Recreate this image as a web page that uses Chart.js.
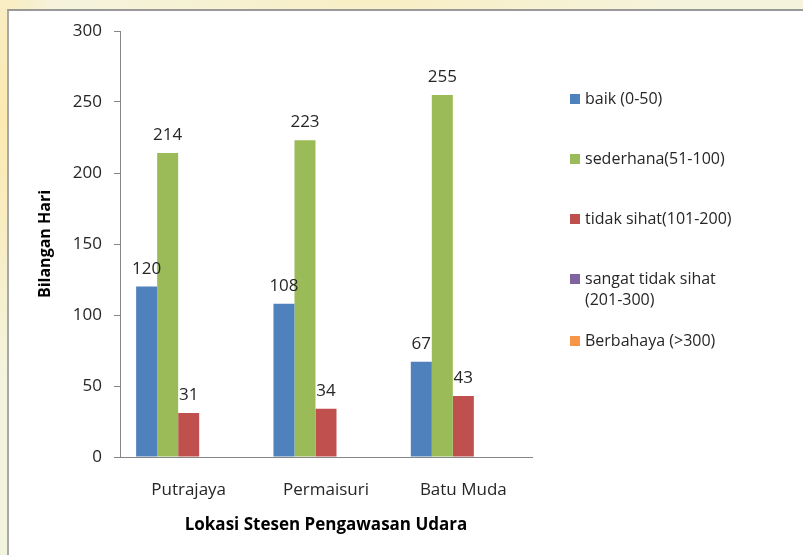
<!DOCTYPE html>
<html lang="ms">
<head>
    <meta charset="UTF-8">
    <title>Bilangan Hari mengikut Lokasi Stesen</title>
    <script src="https://cdn.jsdelivr.net/npm/chart.js"></script>
    <style>
        html, body {
            margin: 0;
            padding: 0;
            width: 803px;
            height: 555px;
            overflow: hidden;
        }

        body {
            font-family: "Open Sans", Arial, sans-serif;
            background:
                radial-gradient(ellipse 60px 260px at 0px 120px, rgba(252, 232, 170, 0.9), rgba(252, 232, 170, 0) 100%),
                radial-gradient(ellipse 300px 40px at 380px 0px, rgba(250, 238, 190, 0.8), rgba(250, 238, 190, 0) 100%),
                linear-gradient(180deg, #f5f3dc, #f3f4e0);
            position: relative;
        }

        .frame {
            position: absolute;
            left: 7px;
            top: 9px;
            right: -4px;
            bottom: -4px;
            background: #ffffff;
            border: 2px solid #999999;
            border-left-color: #a8a8a8;
        }

        .chart-box {
            position: absolute;
            left: 0;
            top: 0;
            width: 803px;
            height: 555px;
        }

        .legend {
            position: absolute;
            left: 0;
            top: 0;
        }

        .legend-item {
            position: absolute;
            left: 570px;
            font-size: 16px;
            line-height: 21px;
            color: #262626;
            white-space: nowrap;
        }

        .legend-item .swatch {
            position: absolute;
            left: 0;
            top: 6px;
            width: 10px;
            height: 10px;
        }

        .legend-item .label {
            position: absolute;
            left: 15px;
            top: 0;
        }
    </style>
</head>
<body>
    <div class="frame"></div>
    <div class="chart-box">
        <canvas id="barChart" width="803" height="555"></canvas>
    </div>
    <div class="legend" id="legend"></div>

    <script>
        // Data
        const categories = ["Putrajaya", "Permaisuri", "Batu Muda"];
        const baik = [120, 108, 67];
        const sederhana = [214, 223, 255];
        const tidakSihat = [31, 34, 43];
        const sangatTidakSihat = [null, null, null];
        const berbahaya = [null, null, null];

        const seriesNames = [
            "baik (0-50)",
            "sederhana(51-100)",
            "tidak sihat(101-200)",
            ["sangat tidak sihat", "(201-300)"],
            "Berbahaya (>300)"
        ];
        const seriesColors = ["#4F81BD", "#9BBB59", "#C0504D", "#8064A2", "#F79646"];
        const yTicks = [0, 50, 100, 150, 200, 250, 300];

        const yTitle = "Bilangan Hari";
        const xTitle = "Lokasi Stesen Pengawasan Udara";

        const fontFamily = "'Open Sans', Arial, sans-serif";
        const textColor = "#262626";
        const axisColor = "#868686";

        // Value labels drawn above each bar
        const valueLabels = {
            id: "valueLabels",
            afterDatasetsDraw(chart) {
                const ctx = chart.ctx;
                ctx.save();
                ctx.font = "17px " + fontFamily;
                ctx.fillStyle = textColor;
                ctx.textAlign = "center";
                ctx.textBaseline = "alphabetic";
                chart.data.datasets.forEach((ds, i) => {
                    const meta = chart.getDatasetMeta(i);
                    meta.data.forEach((bar, j) => {
                        const v = ds.data[j];
                        if (v === null || v === undefined) return;
                        ctx.fillText(String(v), bar.x, bar.y - 13);
                    });
                });
                ctx.restore();
            }
        };

        const allSeries = [baik, sederhana, tidakSihat, sangatTidakSihat, berbahaya];

        const ctx = document.getElementById("barChart").getContext("2d");
        const barChart = new Chart(ctx, {
            type: "bar",
            data: {
                labels: categories,
                datasets: allSeries.map((values, i) => ({
                    label: Array.isArray(seriesNames[i]) ? seriesNames[i].join(" ") : seriesNames[i],
                    data: values,
                    backgroundColor: seriesColors[i],
                    borderWidth: 0,
                    categoryPercentage: 0.765,
                    barPercentage: 1.0
                }))
            },
            options: {
                responsive: false,
                animation: false,
                layout: {
                    padding: { left: 0, top: 31, right: 271, bottom: 0 }
                },
                plugins: {
                    legend: { display: false },
                    tooltip: { enabled: false }
                },
                scales: {
                    x: {
                        grid: { display: false },
                        border: { display: true, color: axisColor, width: 1 },
                        ticks: {
                            color: textColor,
                            font: { family: fontFamily, size: 17 },
                            padding: 15
                        },
                        title: {
                            display: true,
                            text: xTitle,
                            color: "#000000",
                            font: { family: fontFamily, size: 17, weight: "bold" },
                            padding: { top: 0, bottom: 20 }
                        },
                        afterFit(scale) {
                            scale.height = 98;
                        }
                    },
                    y: {
                        min: 0,
                        max: 300,
                        afterBuildTicks(scale) {
                            scale.ticks = yTicks.map(v => ({ value: v }));
                        },
                        grid: {
                            drawOnChartArea: false,
                            drawTicks: true,
                            tickLength: 6,
                            color: axisColor
                        },
                        border: { display: true, color: axisColor, width: 1 },
                        ticks: {
                            color: textColor,
                            font: { family: fontFamily, size: 17 },
                            padding: 12
                        },
                        title: {
                            display: true,
                            text: yTitle,
                            color: "#000000",
                            font: { family: fontFamily, size: 16, weight: "bold" },
                            padding: { top: 36, bottom: 0 }
                        },
                        afterFit(scale) {
                            scale.width = 120;
                        }
                    }
                }
            },
            plugins: [valueLabels]
        });

        // Legend on the right
        const legendTops = [88, 148, 208, 268, 330];
        const legendEl = document.getElementById("legend");
        seriesNames.forEach((name, i) => {
            const item = document.createElement("div");
            item.className = "legend-item";
            item.style.top = legendTops[i] + "px";
            const sw = document.createElement("span");
            sw.className = "swatch";
            sw.style.background = seriesColors[i];
            const lab = document.createElement("span");
            lab.className = "label";
            lab.innerHTML = (Array.isArray(name) ? name : [name])
                .map(s => s.replace(/&/g, "&amp;").replace(/</g, "&lt;").replace(/>/g, "&gt;"))
                .join("<br>");
            item.appendChild(sw);
            item.appendChild(lab);
            legendEl.appendChild(item);
        });
    </script>
</body>
</html>
